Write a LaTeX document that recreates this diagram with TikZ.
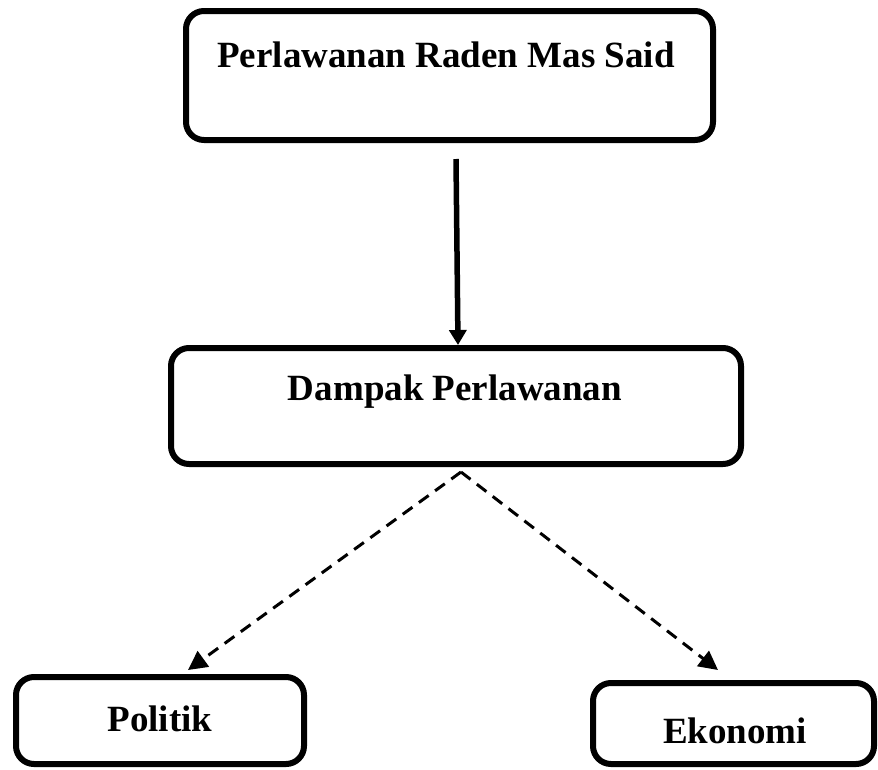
\documentclass[tikz,border=0pt]{standalone}
\usepackage{fontspec}
\setmainfont{Liberation Serif}
\usetikzlibrary{arrows.meta}
\tikzset{
  box/.style={draw=black, line width=6pt, rounded corners=18pt, inner sep=0pt, fill=none},
  lbl/.style={anchor=base, inner sep=0pt, font=\fontsize{37}{44}\selectfont\bfseries},
  solidarrow/.style={line width=5.5pt, -{Triangle[width=17pt,length=15pt]}},
  dasharrow/.style={line width=3pt, dash pattern=on 12pt off 8pt, -{Triangle[width=19pt,length=19pt]}}
}
\begin{document}
\begin{tikzpicture}[x=1pt,y=-1pt]
\useasboundingbox (0,0) rectangle (878,769);
\node[box, minimum width=527pt, minimum height=129pt] (top) at (449.5,75.5) {};
\node[box, minimum width=570pt, minimum height=116pt] (mid) at (456,406) {};
\node[box, minimum width=288pt, minimum height=87pt] (pol) at (160,720.5) {};
\node[box, minimum width=281pt, minimum height=81pt] (eko) at (733.5,723.5) {};
\node[lbl] (tTop) at (446,67) {Perlawanan Raden Mas Said};
\node[lbl] (tMid) at (455,400) {Dampak Perlawanan};
\node[lbl] (tPol) at (160,731) {Politik};
\node[lbl] (tEko) at (735,743) {Ekonomi};
\draw[solidarrow] ([xshift=6.5pt,yshift=-16pt]top.south) -- ([xshift=2pt]mid.north);
\draw[dasharrow] ([xshift=5pt,yshift=-5pt]mid.south) -- ([xshift=28pt,yshift=4pt]pol.north);
\draw[dasharrow] ([xshift=5pt,yshift=-5pt]mid.south) -- ([xshift=-15.5pt,yshift=10pt]eko.north);
\end{tikzpicture}
\end{document}
